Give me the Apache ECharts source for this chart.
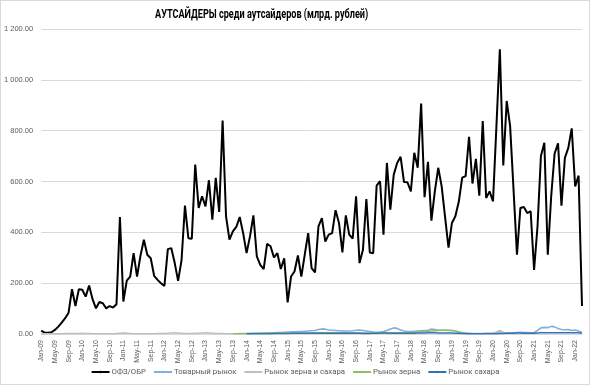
<!DOCTYPE html>
<html><head><meta charset="utf-8">
<script src="https://cdn.jsdelivr.net/npm/echarts@6/dist/echarts.min.js"></script>
<style>html,body{margin:0;padding:0;background:#fff}#c{width:590px;height:385px;box-sizing:border-box;border:1px solid #d9d9d9}</style>
</head><body><div id="c"></div>
<script>
var monthNames = ['Jan','Feb','Mar','Apr','May','Jun','Jul','Aug','Sep','Oct','Nov','Dec'];
var years = ['09','10','11','12','13','14','15','16','17','18','19','20','21','22'];
var categories = [];
years.forEach(function(y){ monthNames.forEach(function(m){ categories.push(m + '-' + y); }); });
categories = categories.slice(0, 159);

var titleText = 'АУТСАЙДЕРЫ среди аутсайдеров (млрд. рублей)';
var seriesNames = ['ОФЗ/ОБР','Товарный рынок','Рынок зерна и сахара','Рынок зерна','Рынок сахара'];
var yTicks = [0, 200, 400, 600, 800, 1000, 1200];

var ofz = [
 13, 5, 5, 7, 16, 29, 45, 62, 84, 176, 110, 176,
 174, 147, 191, 137, 101, 126, 121, 101, 110, 104, 117, 460,
 128, 210, 226, 318, 226, 308, 371, 312, 298, 229, 213, 200,
 189, 334, 338, 280, 209, 290, 505, 377, 375, 667, 496, 542,
 502, 605, 450, 614, 480, 840, 463, 371, 404, 421, 460, 397,
 318, 384, 467, 305, 272, 255, 355, 345, 301, 318, 256, 298,
 124, 226, 246, 309, 226, 312, 397, 259, 242, 423, 456, 364,
 391, 397, 487, 437, 321, 467, 391, 375, 542, 279, 331, 531,
 321, 318, 584, 601, 391, 673, 489, 627, 673, 697, 598, 597,
 561, 713, 654, 907, 538, 677, 446, 561, 654, 581, 460, 340,
 437, 463, 520, 615, 621, 776, 592, 689, 544, 838, 535, 561,
 522, 818, 1120, 663, 917, 818, 568, 312, 496, 500, 476, 483,
 252, 423, 700, 752, 312, 542, 710, 750, 505, 693, 732, 809,
 581, 623, 110
];

var tovar = [
 null,null,null,null,null,null,null,null,null,null,null,null,
 null,null,null,null,null,null,null,null,null,null,null,null,
 null,null,null,null,null,null,null,null,null,null,null,null,
 null,null,null,null,null,null,null,null,null,null,null,null,
 null,null,null,null,null,null,null,null,null,null,null,null,
 2, 2, 3, 3, 3, 4, 4, 5, 5, 6, 6, 7,
 8, 9, 9, 10, 10, 11, 12, 13, 14, 18, 20, 19,
 16, 15, 14, 13, 12, 12, 12, 13, 15, 16, 14, 12,
 10, 8, 7, 8, 10, 14, 20, 24, 22, 16, 12, 10,
 10, 11, 12, 13, 14, 15, 20, 18, 16, 15, 15, 14,
 14, 12, 8, 5, 3, 3, 2, 2, 2, 2, 3, 3,
 4, 6, 10, 6, 5, 4, 5, 6, 7, 6, 6, 5,
 5, 14, 24, 26, 25, 30, 28, 22, 18, 17, 18, 14,
 16, 12, 6
];

var zernoSahar = [
 1, 1, 1, 1, 1, 1, 1, 2, 2, 2, 2, 2,
 3, 2, 2, 1, 1, 1, 1, 1, 1, 1, 2, 3,
 4, 3, 2, 1, 1, 1, 1, 1, 1, 1, 2, 2,
 2, 3, 4, 5, 4, 3, 2, 2, 2, 3, 3, 4,
 5, 4, 3, 2, 2, 2, 1, 1, 1, 1, 1, 1,
 1, 1, 1, null,null,null,null,null,null,null,null,null,
 null,null,null,null,null,null,null,null,null,null,null,null,
 null,null,null,null,null,null,null,null,null,null,null,null,
 null,null,null,null,null,null,null,null,null,null,null,null,
 null,null,null,null,null,null,null,null,null,null,null,null,
 null,null,null,null,null,null,null,null,null,null,null,2,
 3, 8, 14, 6, 2, null,null,null,null,null,null,null,
 null,null,null,null,null,null,null,null,null,null,null,null,
 null,null,null
];

var zerno = [
 null,null,null,null,null,null,null,null,null,null,null,null,
 null,null,null,null,null,null,null,null,null,null,null,null,
 null,null,null,null,null,null,null,null,null,null,null,null,
 null,null,null,null,null,null,null,null,null,null,null,null,
 null,null,null,null,null,null,null,null,1, 1, 2, 2,
 2, 2, 2, 2, 3, 3, 3, 3, 3, 3, 3, 3,
 3, 3, 4, 4, 4, 4, 4, 4, 5, 5, 5, 5,
 5, 5, 5, 5, 5, 5, 5, 5, 5, 4, 4, 4,
 4, 4, 4, 4, 4, 4, 4, 5, 5, 5, 5, 6,
 6, 7, 8, 9, 10, 11, 12, 13, 14, 15, 15, 15,
 14, 12, 8, 4, 1, 0, null,null,null,null,null,null,
 null,null,null,null,null,null,null,null,null,null,null,null,
 null,null,null,null,null,null,null,null,null,null,null,null,
 null,null,null
];

var sahar = [
 null,null,null,null,null,null,null,null,null,null,null,null,
 null,null,null,null,null,null,null,null,null,null,null,null,
 null,null,null,null,null,null,null,null,null,null,null,null,
 null,null,null,null,null,null,null,null,null,null,null,null,
 null,null,null,null,null,null,null,null,null,null,null,null,
 1, 1, 1, 1, 1, 1, 1, 1, 2, 2, 2, 2,
 2, 3, 3, 3, 3, 3, 3, 3, 3, 3, 3, 3,
 3, 3, 3, 3, 3, 3, 3, 3, 3, 3, 2, 2,
 2, 3, 3, 4, 4, 4, 3, 3, 3, 3, 3, 3,
 3, 3, 4, 4, 4, 5, 5, 5, 4, 4, 4, 4,
 4, 3, 3, 2, 2, 1, 1, 1, 1, 1, 1, 1,
 1, 1, 2, 2, 3, 3, 3, 4, 4, 3, 3, 3,
 3, 4, 5, 5, 5, 5, 5, 5, 5, 5, 5, 5,
 5, 5, 3
];

var colors = ['#000000', '#84AEDB', '#BFBFBF', '#8CC068', '#3372B5'];
var widths = [2, 1.6, 1.6, 1.6, 1.6];
var dataSets = [ofz, tovar, zernoSahar, zerno, sahar];

function fmt(v){
  var s = v.toFixed(2);
  var parts = s.split('.');
  parts[0] = parts[0].replace(/\B(?=(\d{3})+(?!\d))/g, ' ');
  return parts.join('.');
}

var chart = echarts.init(document.getElementById('c'), null, {renderer: 'canvas'});
chart.setOption({
  animation: false,
  backgroundColor: '#fff',
  graphic: [{
    type: 'text', x: 154, y: 8, scaleX: 0.76, scaleY: 1, originX: 0, originY: 0,
    style: {text: titleText, fontFamily: 'Roboto, sans-serif', fontSize: 12, fontWeight: 'bold', fill: '#000', textVerticalAlign: 'top', textAlign: 'left'}
  }],
  legend: {
    data: seriesNames,
    bottom: 3, left: 'center',
    itemWidth: 18, itemHeight: 3, itemGap: 7,
    textStyle: {fontFamily: 'Roboto, sans-serif', fontSize: 7.8, color: '#595959', padding: [0,0,0,-3]}
  },
  grid: {left: 38, right: 7, top: 28, bottom: 50, containLabel: false},
  xAxis: {
    type: 'category', data: categories, boundaryGap: false,
    axisLine: {lineStyle: {color: '#D9D9D9'}},
    axisTick: {show: false},
    axisLabel: {interval: 3, rotate: 90, fontSize: 7, color: '#595959', margin: 6, fontFamily: 'Liberation Sans, sans-serif'},
    splitLine: {show: false}
  },
  yAxis: {
    type: 'value', min: yTicks[0], max: yTicks[yTicks.length-1], interval: 200,
    axisLine: {show: false}, axisTick: {show: false},
    axisLabel: {formatter: fmt, fontSize: 7.5, color: '#595959', margin: 8, fontFamily: 'Liberation Sans, sans-serif'},
    splitLine: {lineStyle: {color: '#D9D9D9', width: 1}}
  },
  series: seriesNames.map(function(n, i){
    return {
      name: n, type: 'line', data: dataSets[i], symbol: 'none', showSymbol: false,
      connectNulls: false,
      lineStyle: {color: colors[i], width: widths[i]},
      itemStyle: {color: colors[i]},
      z: i === 0 ? 2 : 3
    };
  })
});
</script></body></html>
